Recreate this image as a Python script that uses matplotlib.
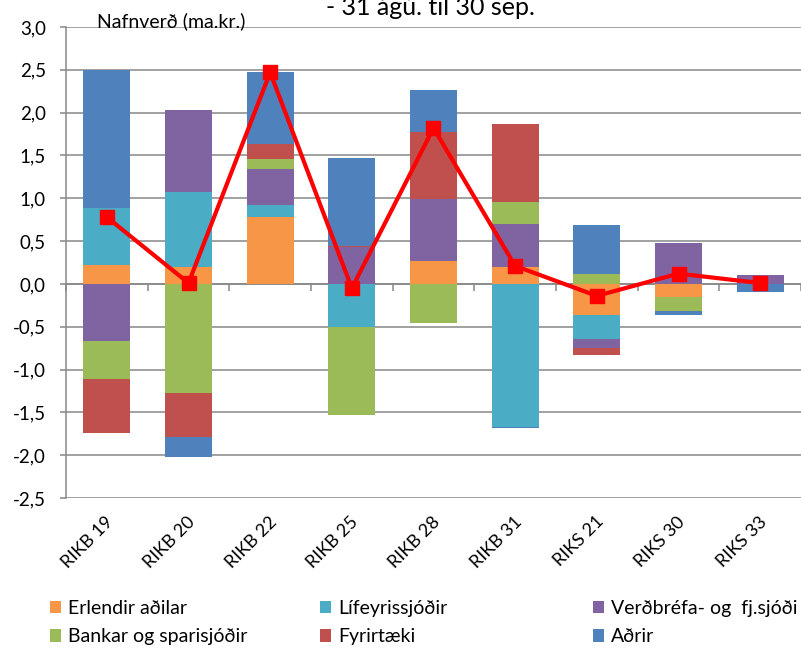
import matplotlib
matplotlib.use("Agg")
import matplotlib.pyplot as plt
from matplotlib.patches import Patch
import numpy as np

plt.rcParams['font.family'] = ['Lato', 'DejaVu Sans']

categories = ["RIKB 19", "RIKB 20", "RIKB 22", "RIKB 25", "RIKB 28",
              "RIKB 31", "RIKS 21", "RIKS 30", "RIKS 33"]

series_names = ["Erlendir aðilar", "Lífeyrissjóðir", "Verðbréfa- og  fj.sjóði",
                "Bankar og sparisjóðir", "Fyrirtæki", "Aðrir"]

erlendir = [0.22, 0.195, 0.78, 0.0, 0.265, 0.195, -0.367, -0.155, 0.0]
lifeyris = [0.67, 0.883, 0.136, -0.506, 0.0, -1.675, -0.276, 0.0, 0.0]
verdbref = [-0.666, 0.955, 0.42, 0.43, 0.725, 0.51, -0.10, 0.48, 0.10]
bankar = [-0.447, -1.277, 0.117, -1.02, -0.452, 0.253, 0.12, -0.167, 0.0]
fyrirtaeki = [-0.63, -0.507, 0.184, 0.015, 0.786, 0.911, -0.09, 0.0, 0.0]
adrir = [1.61, -0.236, 0.837, 1.02, 0.49, -0.012, 0.565, -0.04, -0.10]
net = [0.78, 0.01, 2.47, -0.05, 1.82, 0.21, -0.14, 0.12, 0.01]

yticks = [3.0, 2.5, 2.0, 1.5, 1.0, 0.5, 0.0, -0.5, -1.0, -1.5, -2.0, -2.5]
ytick_labels = ["3,0", "2,5", "2,0", "1,5", "1,0", "0,5", "0,0",
                "-0,5", "-1,0", "-1,5", "-2,0", "-2,5"]

colors = ["#F79646", "#4BACC6", "#8064A2", "#9BBB59", "#C0504D", "#4F81BD"]

W, H = 801, 652
fig = plt.figure(figsize=(W / 100, H / 100), dpi=100)
ax = fig.add_axes([66 / W, 1 - 498 / H, (801 - 66) / W, (498 - 27) / H])

x = np.arange(len(categories))
pos_bottom = np.zeros(len(categories))
neg_bottom = np.zeros(len(categories))
all_series = [erlendir, lifeyris, verdbref, bankar, fyrirtaeki, adrir]
for vals, col in zip(all_series, colors):
    v = np.array(vals)
    pos = np.where(v > 0, v, 0)
    neg = np.where(v < 0, v, 0)
    ax.bar(x, pos, bottom=pos_bottom, width=0.575, color=col, linewidth=0, zorder=3)
    ax.bar(x, neg, bottom=neg_bottom, width=0.575, color=col, linewidth=0, zorder=3)
    pos_bottom += pos
    neg_bottom += neg

ax.plot(x, net, color="#FF0000", lw=3, marker="s", ms=9.5, zorder=5)

ax.set_xlim(-0.5, len(categories) - 0.5)
ax.set_ylim(-2.5, 3.0)
ax.set_yticks(yticks)
ax.set_yticklabels(ytick_labels, fontsize=13.5)
ax.yaxis.grid(True, color="#878787", lw=1.1, zorder=0)
ax.set_axisbelow(True)

for s in ["top", "right"]:
    ax.spines[s].set_visible(False)
ax.spines["left"].set_color("#878787")
ax.spines["left"].set_linewidth(1.1)
ax.spines["bottom"].set_position(("data", 0))
ax.spines["bottom"].set_color("#878787")
ax.spines["bottom"].set_linewidth(1.1)
ax.tick_params(axis="y", length=4.5, color="#878787", width=1.1, pad=10)
ax.set_xticks(np.arange(-0.5, len(categories) + 0.5, 1.0))
ax.set_xticklabels([])
ax.tick_params(axis="x", length=5, color="#878787", width=1.1, direction="out")

trans = ax.get_xaxis_transform()
for i, lab in enumerate(categories):
    ax.text(i + 0.05, -0.045, lab, transform=trans, rotation=45,
            ha="right", va="center", rotation_mode="anchor", fontsize=13)

fig.text(97 / W, 1 - 27 / H, "Nafnverð (ma.kr.)", ha="left", va="baseline", fontsize=14)
fig.text(430 / W, 1 - 15 / H, "- 31 ágú. til 30 sep.", ha="center", va="baseline", fontsize=18)

handles = [Patch(facecolor=c, edgecolor="none") for c in colors]
col_x = [42, 312, 585]
for j in range(3):
    idx = [j, j + 3]
    fig.legend([handles[k] for k in idx], [series_names[k] for k in idx],
               loc="upper left", bbox_to_anchor=(col_x[j] / W, 1 - 592 / H),
               frameon=False, fontsize=14, handlelength=0.6, handleheight=0.6,
               handletextpad=0.35, labelspacing=0.6, borderaxespad=0)

fig.savefig("out.png", dpi=100)
